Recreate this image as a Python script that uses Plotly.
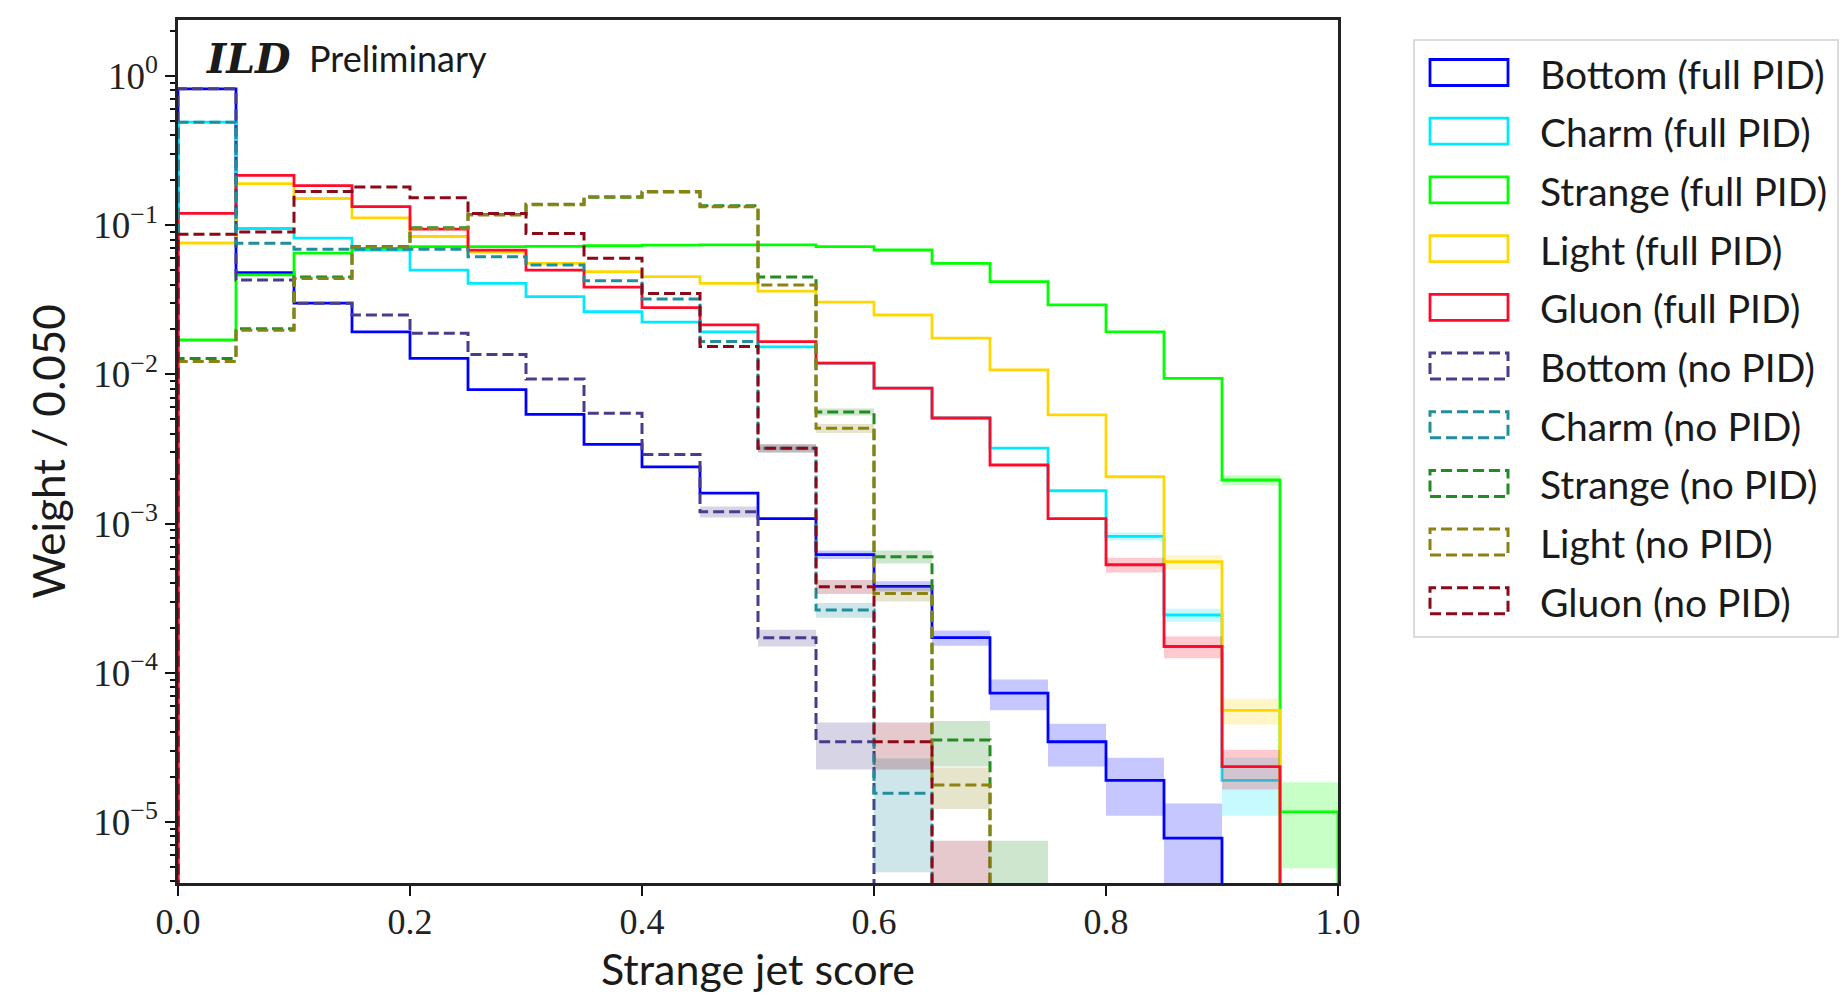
import math
import plotly.graph_objects as go

# ---------------- data ----------------
bin_edges = [0.0, 0.05, 0.1, 0.15, 0.2, 0.25, 0.3, 0.35, 0.4, 0.45, 0.5,
             0.55, 0.6, 0.65, 0.7, 0.75, 0.8, 0.85, 0.9, 0.95, 1.0]

series_names = ["Bottom (full PID)", "Charm (full PID)", "Strange (full PID)",
                "Light (full PID)", "Gluon (full PID)", "Bottom (no PID)",
                "Charm (no PID)", "Strange (no PID)", "Light (no PID)", "Gluon (no PID)"]

bottom_full = [0.82, 0.048, 0.030, 0.0193, 0.0128, 0.0079, 0.0054, 0.0034, 0.0024, 0.0016,
               0.00108, 0.00062, 0.00038, 0.000172, 0.000073, 0.0000345, 0.000019, 0.0000078, 0, 0]
charm_full = [0.49, 0.095, 0.082, 0.068, 0.050, 0.0408, 0.0332, 0.0263, 0.0224, 0.0193,
              0.0153, 0.0119, 0.0081, 0.0051, 0.0032, 0.00166, 0.00082, 0.000244, 0.000019, 0]
strange_full = [0.017, 0.0464, 0.065, 0.070, 0.0718, 0.0718, 0.0722, 0.0728, 0.0735, 0.0737,
                0.0737, 0.0718, 0.0682, 0.0555, 0.0418, 0.0292, 0.0193, 0.0094, 0.00196, 0.0000117]
light_full = [0.076, 0.190, 0.151, 0.112, 0.084, 0.066, 0.0555, 0.0488, 0.0452, 0.0408,
              0.0362, 0.0305, 0.025, 0.0175, 0.0107, 0.00535, 0.00206, 0.000555, 0.000056, 0]
gluon_full = [0.120, 0.216, 0.184, 0.133, 0.094, 0.068, 0.050, 0.0385, 0.028, 0.0215,
              0.0166, 0.0119, 0.0081, 0.0051, 0.00247, 0.00108, 0.00053, 0.000150, 0.0000235, 0]
bottom_nopid = [0.82, 0.043, 0.030, 0.025, 0.0189, 0.0136, 0.0093, 0.0055, 0.0029, 0.0012,
                0.000172, 0.0000345, 0, 0, 0, 0, 0, 0, 0, 0]
charm_nopid = [0.49, 0.0756, 0.069, 0.069, 0.069, 0.0615, 0.054, 0.0425, 0.032, 0.0166,
               0.0032, 0.000264, 0.0000156, 0, 0, 0, 0, 0, 0, 0]
strange_nopid = [0.0128, 0.0202, 0.045, 0.072, 0.096, 0.118, 0.138, 0.154, 0.167, 0.135,
                 0.045, 0.0056, 0.0006, 0.0000355, 0.0000037, 0, 0, 0, 0, 0]
light_nopid = [0.0122, 0.0198, 0.044, 0.0718, 0.095, 0.117, 0.137, 0.155, 0.168, 0.133,
               0.0397, 0.00435, 0.00034, 0.0000177, 0, 0, 0, 0, 0, 0]
gluon_nopid = [0.087, 0.090, 0.168, 0.180, 0.153, 0.120, 0.088, 0.060, 0.0349, 0.0154,
               0.0032, 0.000378, 0.0000345, 0.0000037, 0, 0, 0, 0, 0, 0]

# statistical uncertainties (absolute)
bottom_full_err = [0, 0, 0, 0, 0, 0, 0, 0, 0, 0, 0, 0.00004, 0.00003, 0.00002, 0.000017,
                   0.000011, 0.000008, 0.0000055, 0, 0]
charm_full_err = [0, 0, 0, 0, 0, 0, 0, 0, 0, 0, 0, 0, 0, 0, 0, 0, 0.00005, 0.000025, 0.000008, 0]
strange_full_err = [0, 0, 0, 0, 0, 0, 0, 0, 0, 0, 0, 0, 0, 0, 0, 0, 0, 0, 0.00015, 0.0000068]
light_full_err = [0, 0, 0, 0, 0, 0, 0, 0, 0, 0, 0, 0, 0, 0, 0, 0, 0, 0.00006, 0.000011, 0]
gluon_full_err = [0, 0, 0, 0, 0, 0, 0, 0, 0, 0, 0, 0, 0, 0, 0, 0, 0.00006, 0.000025, 0.000007, 0]
bottom_nopid_err = [0, 0, 0, 0, 0, 0, 0, 0, 0, 0.0001, 0.000022, 0.000012, 0, 0, 0, 0, 0, 0, 0, 0]
charm_nopid_err = [0, 0, 0, 0, 0, 0, 0, 0, 0, 0, 0.0002, 0.00003, 0.000011, 0, 0, 0, 0, 0, 0, 0]
strange_nopid_err = [0, 0, 0, 0, 0, 0, 0, 0, 0, 0, 0, 0.0003, 0.00006, 0.000012, 0.0000038,
                     0, 0, 0, 0, 0]
light_nopid_err = [0, 0, 0, 0, 0, 0, 0, 0, 0, 0, 0, 0.0003, 0.00004, 0.0000055, 0, 0, 0, 0, 0, 0]
gluon_nopid_err = [0, 0, 0, 0, 0, 0, 0, 0, 0, 0, 0.0002, 0.00004, 0.000012, 0.0000038,
                   0, 0, 0, 0, 0, 0]

x_tick_vals = [0.0, 0.2, 0.4, 0.6, 0.8, 1.0]
x_tick_text = ["0.0", "0.2", "0.4", "0.6", "0.8", "1.0"]
y_tick_vals = [1e-5, 1e-4, 1e-3, 1e-2, 1e-1, 1]
y_tick_text = ["10<sup>\u22125</sup>", "10<sup>\u22124</sup>", "10<sup>\u22123</sup>",
               "10<sup>\u22122</sup>", "10<sup>\u22121</sup>", "10<sup>0</sup>"]

# ---------------- styling ----------------
series_values = [bottom_full, charm_full, strange_full, light_full, gluon_full,
                 bottom_nopid, charm_nopid, strange_nopid, light_nopid, gluon_nopid]
series_errors = [bottom_full_err, charm_full_err, strange_full_err, light_full_err, gluon_full_err,
                 bottom_nopid_err, charm_nopid_err, strange_nopid_err, light_nopid_err, gluon_nopid_err]
series_colors = ["#0000ff", "#00eaff", "#00ff00", "#ffd700", "#ff0a2a",
                 "#483d8b", "#208f9c", "#228b22", "#8c8214", "#8b0a1a"]
series_dashed = [False] * 5 + [True] * 5

FLOOR = 1e-9
W, H = 1845, 994
X0, X1 = 178, 1338   # plot area in pixels
Y0, Y1 = 20, 883
DASH = "11px,5px"


def rgba(hexc, a):
    h = hexc.lstrip("#")
    return "rgba(%d,%d,%d,%.2f)" % (int(h[0:2], 16), int(h[2:4], 16), int(h[4:6], 16), a)


def px_x(p):
    return (p - X0) / (X1 - X0)


def px_y(p):
    return (Y1 - p) / (Y1 - Y0)


fig = go.Figure()

for name, vals, errs, col, dashed in zip(series_names, series_values, series_errors,
                                         series_colors, series_dashed):
    # uncertainty band
    bx, by = [], []
    for i, (v, e) in enumerate(zip(vals, errs)):
        if e <= 0:
            continue
        lo = max(v - e, FLOOR)
        hi = v + e
        xa, xb = bin_edges[i], bin_edges[i + 1]
        bx += [xa, xb, xb, xa, xa, None]
        by += [lo, lo, hi, hi, lo, None]
    if bx:
        fig.add_trace(go.Scatter(x=bx, y=by, mode="lines", fill="toself",
                                 fillcolor=rgba(col, 0.22), line=dict(width=0),
                                 showlegend=False, hoverinfo="skip"))
    # step histogram
    v2 = [v if v > 0 else FLOOR for v in vals]
    xs = [bin_edges[0]] + bin_edges[:-1] + [bin_edges[-1], bin_edges[-1]]
    ys = [FLOOR] + v2 + [v2[-1], FLOOR]
    fig.add_trace(go.Scatter(x=xs, y=ys, mode="lines", line_shape="hv", name=name,
                             line=dict(color=col, width=3 if dashed else 2.8,
                                       dash=DASH if dashed else "solid"),
                             showlegend=False))

# ---------------- manual legend (matplotlib style patches) ----------------
shapes = []
annotations = []
shapes.append(dict(type="rect", xref="paper", yref="paper",
                   x0=px_x(1414), x1=px_x(1838), y0=px_y(637), y1=px_y(40),
                   line=dict(color="#d0d0d0", width=1.5), fillcolor="white", layer="above"))
for i, (name, col, dashed) in enumerate(zip(series_names, series_colors, series_dashed)):
    cy = 72.5 + 58.7 * i
    shapes.append(dict(type="rect", xref="paper", yref="paper",
                       x0=px_x(1430), x1=px_x(1508), y0=px_y(cy + 13), y1=px_y(cy - 13),
                       line=dict(color=col, width=3 if dashed else 2.8,
                                 dash=DASH if dashed else "solid"),
                       fillcolor="rgba(0,0,0,0)", layer="above"))
    annotations.append(dict(xref="paper", yref="paper", x=px_x(1538), y=px_y(cy + 1),
                            xanchor="left", yanchor="middle", showarrow=False, text=name,
                            font=dict(family="Lato", size=39, color="#1a1a1a")))

# ILD Preliminary label
annotations.append(dict(xref="paper", yref="paper", x=px_x(204), y=px_y(59),
                        xanchor="left", yanchor="middle", showarrow=False,
                        text="<b><i>ILD</i></b>",
                        font=dict(family="DejaVu Serif", size=41, color="#1a1a1a")))
annotations.append(dict(xref="paper", yref="paper", x=px_x(307), y=px_y(58),
                        xanchor="left", yanchor="middle", showarrow=False,
                        text="Preliminary",
                        font=dict(family="Lato", size=36, color="#1a1a1a")))

minor_y = [m * 10.0 ** k for k in range(-6, 1) for m in range(2, 10)]

fig.update_layout(
    width=W, height=H,
    margin=dict(l=X0, r=W - X1, t=Y0, b=H - Y1, autoexpand=False),
    paper_bgcolor="white", plot_bgcolor="white",
    shapes=shapes, annotations=annotations,
    showlegend=False,
    xaxis=dict(range=[0, 1], tickmode="array", tickvals=x_tick_vals, ticktext=x_tick_text,
               ticks="outside", ticklen=10, tickwidth=2, tickcolor="#111",
               ticklabelstandoff=-5,
               showline=True, linewidth=2.5, linecolor="#222", mirror=True,
               showgrid=False, zeroline=False,
               tickfont=dict(family="Liberation Serif", size=36, color="#222"),
               title=dict(text="Strange jet score", standoff=22,
                          font=dict(family="Lato", size=43, color="#1a1a1a"))),
    yaxis=dict(type="log", range=[math.log10(3.9e-6), 0.3753],
               tickmode="array", tickvals=y_tick_vals, ticktext=y_tick_text,
               ticks="outside", ticklen=10, tickwidth=2, tickcolor="#111",
               minor=dict(tickmode="array", tickvals=minor_y, ticks="outside", ticklen=5,
                          tickwidth=1.5, tickcolor="#111", showgrid=False),
               showline=True, linewidth=2.5, linecolor="#222", mirror=True,
               showgrid=False, zeroline=False,
               tickfont=dict(family="Liberation Serif", size=37, color="#222"),
               title=dict(text="Weight / 0.050", standoff=14,
                          font=dict(family="Lato", size=44, color="#1a1a1a"))),
)

fig.write_html("out.html")
